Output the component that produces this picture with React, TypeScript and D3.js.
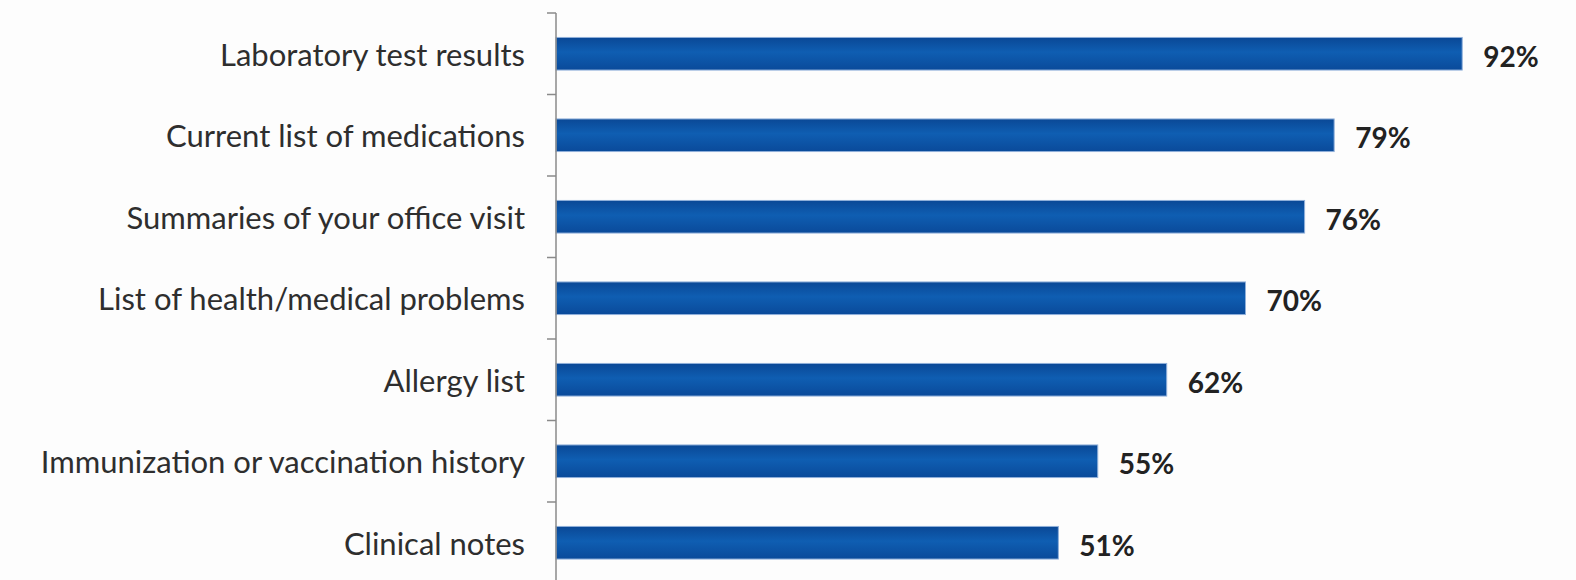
import React from "react";
import * as d3 from "d3";

const categories = [
  "Laboratory test results",
  "Current list of medications",
  "Summaries of your office visit",
  "List of health/medical problems",
  "Allergy list",
  "Immunization or vaccination history",
  "Clinical notes",
];
const values = [92, 79, 76, 70, 62, 55, 51];

const W = 1576;
const H = 580;
const axisX = 556;
const fontFamily = "Lato, 'Open Sans', sans-serif";

export default function App() {
  const x = d3.scaleLinear().domain([0, 100]).range([axisX, axisX + 985]);
  const y = d3
    .scaleBand<string>()
    .domain(categories)
    .range([13, 583.5])
    .paddingInner(0.6)
    .paddingOuter(0.3);
  const step = y.step();
  const top = 13;
  const tickYs = d3.range(categories.length + 1).map((i) => top + i * step);

  return (
    <svg
      width={W}
      height={H}
      style={{ position: "absolute", left: 0, top: 0, background: "#fff" }}
    >
      <defs>
        <linearGradient id="barGrad" x1="0" y1="0" x2="0" y2="1">
          <stop offset="0%" stopColor="#0a4896" />
          <stop offset="45%" stopColor="#0f5eb2" />
          <stop offset="100%" stopColor="#0a4a9a" />
        </linearGradient>
      </defs>
      <rect x={0} y={0} width={W} height={H} fill="#fdfdfd" />
      {categories.map((c, i) => (
        <g key={c}>
          <rect
            x={x(0)}
            y={y(c)!}
            width={x(values[i]) - x(0)}
            height={y.bandwidth()}
            fill="url(#barGrad)"
            stroke="#8fb0da"
            strokeWidth={1}
          />
          <text
            x={525}
            y={y(c)! + y.bandwidth() / 2}
            textAnchor="end"
            dominantBaseline="central"
            fontFamily={fontFamily}
            fontSize={31}
            fill="#2e2e2e"
          >
            {c}
          </text>
          <text
            x={x(values[i]) + 21}
            y={y(c)! + y.bandwidth() / 2 + 2}
            textAnchor="start"
            dominantBaseline="central"
            fontFamily={fontFamily}
            fontSize={28}
            fontWeight="bold"
            fill="#222"
          >
            {values[i]}%
          </text>
        </g>
      ))}
      <line
        x1={axisX}
        x2={axisX}
        y1={top}
        y2={H}
        stroke="#8a8a8a"
        strokeWidth={1.5}
      />
      {tickYs.map((ty, i) => (
        <line
          key={i}
          x1={axisX - 9}
          x2={axisX}
          y1={ty}
          y2={ty}
          stroke="#8a8a8a"
          strokeWidth={1.5}
        />
      ))}
    </svg>
  );
}
